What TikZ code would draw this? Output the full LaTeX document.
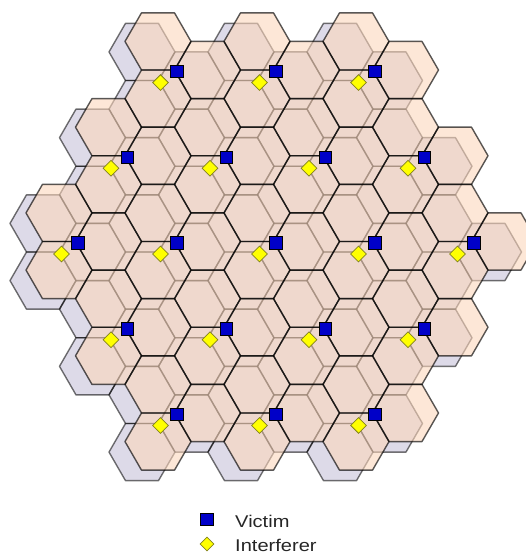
\documentclass[tikz,border=0pt]{standalone}
\usepackage{fontspec}
\setmainfont{Liberation Sans}
\usepackage{tikz}
\usetikzlibrary{shapes.geometric}
\usepackage{xcolor}
\definecolor{victimpeach}{RGB}{252,215,188}
\definecolor{interflav}{RGB}{221,218,232}
\definecolor{victimblue}{RGB}{0,0,200}
\definecolor{interfyellow}{RGB}{255,255,0}
\definecolor{interfolive}{RGB}{130,130,30}

\tikzset{
  interffill/.style={fill=interflav},
  interfedge/.style={draw=black, draw opacity=0.55, line width=1.4pt, line join=round},
  victimfill/.style={fill=victimpeach, fill opacity=0.6},
  victimedge/.style={draw=black, draw opacity=0.65, line width=1.4pt, line join=round},
  victimmark/.style={rectangle, draw=black, line width=0.8pt, fill=victimblue, minimum size=12.5pt, inner sep=0pt},
  interfmark/.style={diamond, draw=interfolive, line width=0.8pt, fill=interfyellow, minimum size=16pt, inner sep=0pt},
  legendtext/.style={font=\fontsize{17}{20}\selectfont, text=black!85, transform shape, xscale=1.18, inner sep=0pt}
}

% hexagon (flat top) round a centre
\newcommand{\hexcell}[2]{(#1,#2) +(0:\R) -- +(60:\R) -- +(120:\R) -- +(180:\R) -- +(240:\R) -- +(300:\R) -- cycle}

% 19 three-sector sites, 3 cells each, shifted by (#1,#2)
\newcommand{\sitegrid}[3]{%
  \foreach \j in {-2,...,2}{
    \foreach \i in {-2,...,2}{
      \pgfmathtruncatemacro\k{\i+\j}
      \ifnum\k<-2 \else\ifnum\k>2 \else
        \pgfmathsetmacro\sx{273.5+99*\i+49.5*\j+#1}
        \pgfmathsetmacro\sy{241.5+85.74*\j+#2}
        \path[#3] \hexcell{\sx+\R}{\sy};
        \path[#3] \hexcell{\sx-\R/2}{\sy-\H/2};
        \path[#3] \hexcell{\sx-\R/2}{\sy+\H/2};
      \fi\fi
    }
  }%
}

\begin{document}
\begin{tikzpicture}[x=1pt, y=-1pt]
  \useasboundingbox (0,0) rectangle (526,554);
  \def\R{33}
  \def\H{57.16}

  % interferer network (underneath)
  \sitegrid{-16}{10.5}{interffill}
  \sitegrid{-16}{10.5}{interfedge}

  % victim network (on top, see-through)
  \sitegrid{0}{0}{victimfill}
  \sitegrid{0}{0}{victimedge}

  % site markers
  \foreach \j in {-2,...,2}{
    \foreach \i in {-2,...,2}{
      \pgfmathtruncatemacro\k{\i+\j}
      \ifnum\k<-2 \else\ifnum\k>2 \else
        \pgfmathsetmacro\sx{273.5+99*\i+49.5*\j}
        \pgfmathsetmacro\sy{241.5+85.74*\j}
        \node[interfmark] (interf-\i-\j) at (\sx-14,\sy+12.5) {};
        \node[victimmark] (victim-\i-\j) at (\sx+2.5,\sy+1.5) {};
      \fi\fi
    }
  }

  % legend
  \node[victimmark] (legvictim) at (206.7,519.5) {};
  \node[interfmark, minimum size=14pt] (leginterf) at (207,544) {};
  \node[legendtext, anchor=base west] (legvictimtext) at (235,527.3) {Victim};
  \node[legendtext, anchor=base west] (leginterftext) at (235,551.7) {Interferer};
\end{tikzpicture}
\end{document}
